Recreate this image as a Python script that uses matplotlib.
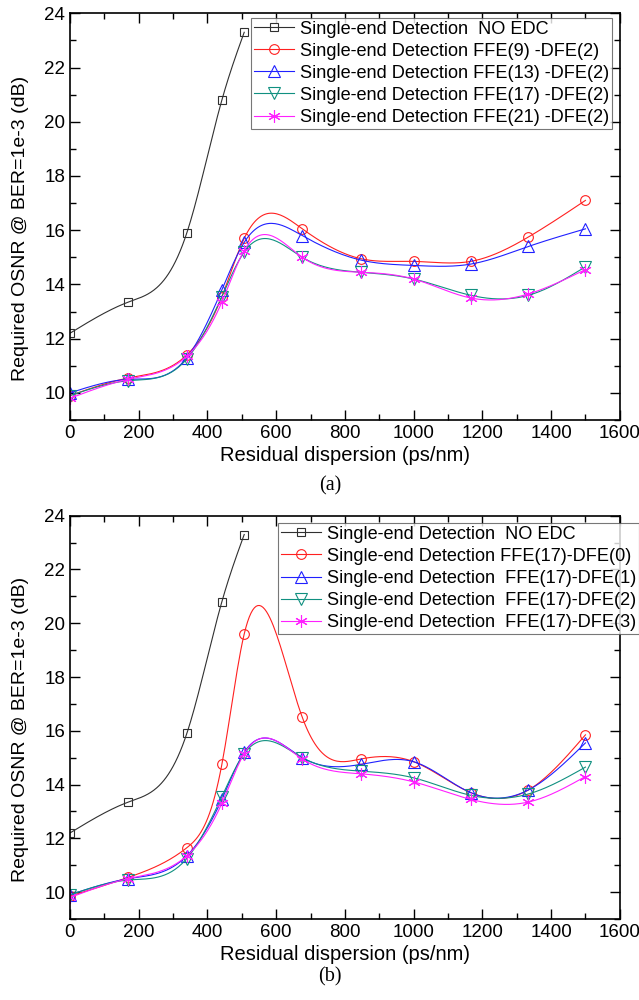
import matplotlib
matplotlib.use("Agg")
import matplotlib.pyplot as plt
from matplotlib.ticker import MultipleLocator
import numpy as np

plt.rcParams['font.family'] = ['Liberation Sans', 'DejaVu Sans']

# residual dispersion points (ps/nm)
dispersion = [0, 170, 340, 442, 507, 676, 846, 1000, 1166, 1334, 1500]
noEdcDispersion = [0, 170, 340, 442, 507]
noEdc = [12.2, 13.35, 15.9, 20.8, 23.3]

# panel (a): different FFE taps, DFE(2)
ffe9 = [9.9, 10.55, 11.4, 13.55, 15.7, 16.05, 14.95, 14.85, 14.85, 15.75, 17.1]
ffe13 = [10.0, 10.5, 11.3, 13.8, 15.55, 15.8, 14.9, 14.7, 14.75, 15.4, 16.05]
ffe17 = [9.9, 10.45, 11.25, 13.55, 15.2, 15.0, 14.45, 14.2, 13.6, 13.6, 14.65]
ffe21 = [9.8, 10.5, 11.35, 13.35, 15.25, 15.0, 14.45, 14.2, 13.5, 13.65, 14.55]

# panel (b): FFE(17), different DFE taps
dfe0 = [9.85, 10.55, 11.65, 14.75, 19.6, 16.5, 14.95, 14.85, 13.7, 13.8, 15.85]
dfe1 = [9.9, 10.5, 11.35, 13.45, 15.2, 15.0, 14.75, 14.85, 13.7, 13.8, 15.55]
dfe2 = [9.9, 10.45, 11.25, 13.55, 15.15, 15.0, 14.5, 14.25, 13.6, 13.65, 14.65]
dfe3 = [9.8, 10.5, 11.35, 13.3, 15.15, 14.95, 14.4, 14.1, 13.45, 13.35, 14.3]

labelsA = ["Single-end Detection  NO EDC", "Single-end Detection FFE(9) -DFE(2)",
           "Single-end Detection FFE(13) -DFE(2)", "Single-end Detection FFE(17) -DFE(2)",
           "Single-end Detection FFE(21) -DFE(2)"]
labelsB = ["Single-end Detection  NO EDC", "Single-end Detection FFE(17)-DFE(0)",
           "Single-end Detection  FFE(17)-DFE(1)", "Single-end Detection  FFE(17)-DFE(2)",
           "Single-end Detection  FFE(17)-DFE(3)"]

colors = ['#303030', '#ff2020', '#2020ff', '#109080', '#ff20ff']
markers = ['s', 'o', '^', 'v', (6, 2, 0)]
markerSizes = [6, 7, 8, 8, 9]


#natural cubic spline through the points, only used for drawing the connecting line
def spline(x, y, n=300):
    x = np.asarray(x, float)
    y = np.asarray(y, float)
    k = len(x)
    h = np.diff(x)
    A = np.zeros((k, k))
    r = np.zeros(k)
    A[0, 0] = 1
    A[-1, -1] = 1
    for i in range(1, k - 1):
        A[i, i - 1] = h[i - 1]
        A[i, i] = 2 * (h[i - 1] + h[i])
        A[i, i + 1] = h[i]
        r[i] = 3 * ((y[i + 1] - y[i]) / h[i] - (y[i] - y[i - 1]) / h[i - 1])
    c = np.linalg.solve(A, r)
    b = (y[1:] - y[:-1]) / h - h * (2 * c[:-1] + c[1:]) / 3
    d = (c[1:] - c[:-1]) / (3 * h)
    xs = np.linspace(x[0], x[-1], n)
    idx = np.clip(np.searchsorted(x, xs) - 1, 0, k - 2)
    t = xs - x[idx]
    ys = y[idx] + b[idx] * t + c[idx] * t ** 2 + d[idx] * t ** 3
    return xs, ys


def drawPanel(ax, series, labels, legendAnchor, legendLoc):
    handles = []
    for i, (xv, yv) in enumerate(series):
        xs, ys = spline(xv, yv)
        ax.plot(xs, ys, color=colors[i], lw=0.8)
        ax.plot(xv, yv, ls='none', marker=markers[i], ms=markerSizes[i], mfc='none',
                mec=colors[i], mew=0.8)
        h, = ax.plot([], [], color=colors[i], lw=0.8, marker=markers[i], ms=markerSizes[i],
                     mfc='none', mec=colors[i], mew=0.8)
        handles.append(h)
    ax.set_xlim(0, 1600)
    ax.set_ylim(9, 24)
    ax.xaxis.set_major_locator(MultipleLocator(200))
    ax.xaxis.set_minor_locator(MultipleLocator(100))
    ax.yaxis.set_major_locator(MultipleLocator(2))
    ax.yaxis.set_minor_locator(MultipleLocator(1))
    ax.tick_params(which='both', direction='in', top=True, right=True, labelsize=13.5, width=1)
    ax.tick_params(which='major', length=7)
    ax.tick_params(which='minor', length=4.5)
    for s in ax.spines.values():
        s.set_linewidth(1.2)
    ax.set_xlabel("Residual dispersion (ps/nm)", fontsize=14.5, labelpad=3)
    ax.set_ylabel("Required OSNR @ BER=1e-3 (dB)", fontsize=14)
    ax.yaxis.set_label_coords(-0.075, 0.47)
    leg = ax.legend(handles, labels, loc=legendLoc, bbox_to_anchor=legendAnchor, fontsize=13.1,
                    frameon=True, fancybox=False, edgecolor='#555555', handlelength=2.2,
                    handletextpad=0.35, labelspacing=0.28, borderpad=0.15, borderaxespad=0)
    leg.get_frame().set_linewidth(0.8)


fig = plt.figure(figsize=(6.39, 10), dpi=100)
axA = fig.add_axes([0.1095, 0.58, 0.8605, 0.4067])
axB = fig.add_axes([0.1095, 0.081, 0.8605, 0.4033])

seriesA = [(noEdcDispersion, noEdc), (dispersion, ffe9), (dispersion, ffe13),
           (dispersion, ffe17), (dispersion, ffe21)]
seriesB = [(noEdcDispersion, noEdc), (dispersion, dfe0), (dispersion, dfe1),
           (dispersion, dfe2), (dispersion, dfe3)]

drawPanel(axA, seriesA, labelsA, (0.986, 0.989), 'upper right')
drawPanel(axB, seriesB, labelsB, (0.378, 0.982), 'upper left')

fig.text(0.517, 0.514, "(a)", ha='center', va='center', fontsize=14.5, family='Liberation Serif')
fig.text(0.517, 0.023, "(b)", ha='center', va='center', fontsize=14.5, family='Liberation Serif')

fig.savefig("out.png", dpi=100)
